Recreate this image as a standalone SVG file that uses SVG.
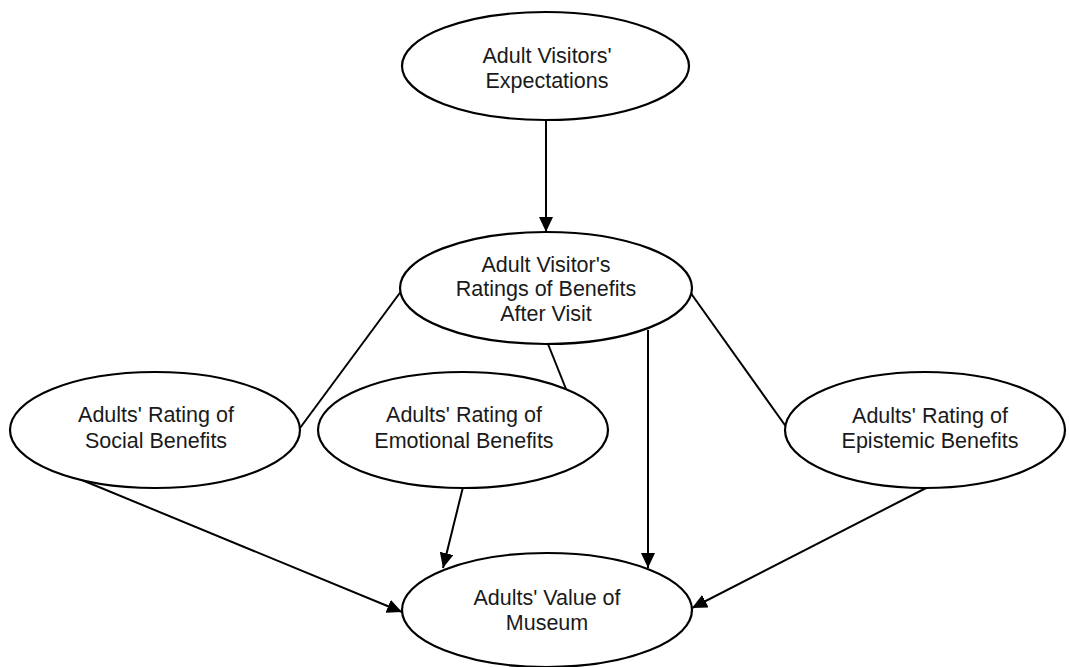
<svg xmlns="http://www.w3.org/2000/svg" width="1070" height="667" viewBox="0 0 1070 667">
<style>
.node ellipse{fill:#fff;stroke:#000;stroke-width:2.2}
.node text{font-family:"Liberation Sans",Arial,sans-serif;font-size:21.5px;fill:#1a1a1a;text-anchor:middle}
.edge{stroke:#000;stroke-width:2;fill:none}
</style>
<defs>
<marker id="arr" markerUnits="userSpaceOnUse" markerWidth="16" markerHeight="14" refX="15" refY="7" orient="auto">
<path d="M0,0 L15,7 L0,14 Z" fill="#000"/>
</marker>
</defs>
<rect width="1070" height="667" fill="#fff"/>
<g id="connectors">
<line class="edge" x1="546" y1="120" x2="546" y2="232" marker-end="url(#arr)"/>
<line class="edge" x1="402" y1="290" x2="300" y2="428"/>
<line class="edge" x1="548" y1="344" x2="566" y2="389"/>
<line class="edge" x1="648" y1="330" x2="648" y2="568" marker-end="url(#arr)"/>
<line class="edge" x1="690" y1="292" x2="787" y2="428"/>
<line class="edge" x1="77" y1="478" x2="402" y2="612" marker-end="url(#arr)"/>
<line class="edge" x1="463" y1="487" x2="443" y2="568" marker-end="url(#arr)"/>
<line class="edge" x1="930" y1="486" x2="692" y2="608" marker-end="url(#arr)"/>
</g>
<g id="expectations" class="node">
<ellipse cx="545.5" cy="66" rx="143.5" ry="54"/>
<text x="547" y="63">Adult Visitors'</text>
<text x="547" y="88">Expectations</text>
</g>
<g id="ratings" class="node">
<ellipse cx="546" cy="288" rx="146" ry="56"/>
<text x="546" y="272">Adult Visitor's</text>
<text x="546" y="296">Ratings of Benefits</text>
<text x="546" y="321">After Visit</text>
</g>
<g id="social" class="node">
<ellipse cx="155" cy="430" rx="145" ry="58"/>
<text x="156" y="422">Adults' Rating of</text>
<text x="156" y="448">Social Benefits</text>
</g>
<g id="emotional" class="node">
<ellipse cx="463" cy="430" rx="145" ry="58"/>
<text x="464" y="422">Adults' Rating of</text>
<text x="464" y="448">Emotional Benefits</text>
</g>
<g id="epistemic" class="node">
<ellipse cx="925" cy="430" rx="140" ry="58"/>
<text x="930" y="423">Adults' Rating of</text>
<text x="930" y="448">Epistemic Benefits</text>
</g>
<g id="value" class="node">
<ellipse cx="547" cy="610" rx="145" ry="57"/>
<text x="547" y="605">Adults' Value of</text>
<text x="547" y="630">Museum</text>
</g>
</svg>
